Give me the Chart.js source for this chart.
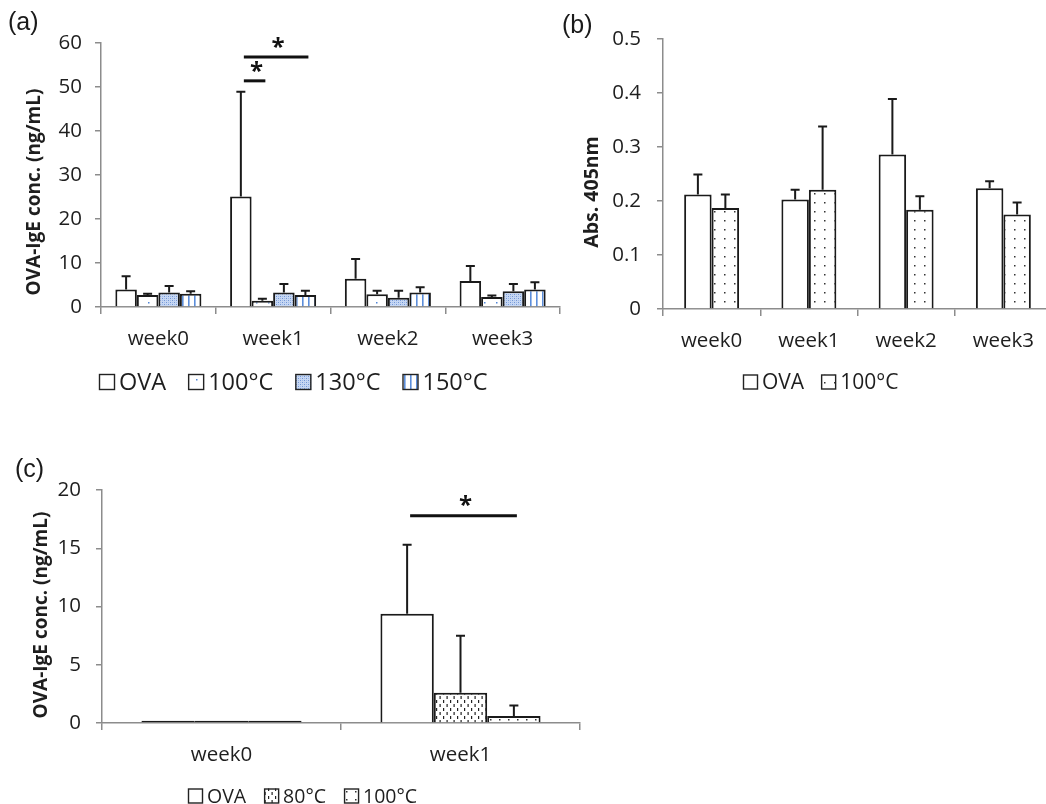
<!DOCTYPE html>
<html><head><meta charset="utf-8">
<script src="https://cdn.jsdelivr.net/npm/chart.js@4.4.1/dist/chart.umd.min.js"></script>
<style>
html,body{margin:0;padding:0;background:#fff;width:1046px;height:804px;overflow:hidden;position:relative}
canvas{position:absolute;display:block}
</style></head><body>
<canvas id="ca" width="590" height="400" style="left:0;top:0"></canvas>
<canvas id="cb" width="520" height="400" style="left:540px;top:0"></canvas>
<canvas id="cc" width="600" height="384" style="left:0;top:420px"></canvas>
<script>
// ---------- data ----------
const weeksA = ['week0','week1','week2','week3'];
const seriesA = ['OVA','100°C','130°C','150°C'];
const ovaA     = [4.0, 25.1, 6.4, 5.9];
const ovaAErr  = [3.0, 23.8, 4.5, 3.4];
const c100A    = [2.7, 1.4, 2.9, 2.3];
const c100AErr = [0.3, 0.5, 0.8, 0.3];
const c130A    = [3.3, 3.3, 2.1, 3.6];
const c130AErr = [1.5, 1.9, 1.6, 1.6];
const c150A    = [3.0, 2.7, 3.3, 4.0];
const c150AErr = [0.6, 1.0, 1.2, 1.6];
const ticksA = [0,10,20,30,40,50,60];
const sigA = [{week:1, from:0, to:3, y:56.8}, {week:1, from:0, to:1, y:51.4}];

const weeksB = ['week0','week1','week2','week3'];
const seriesB = ['OVA','100°C'];
const ovaB     = [0.212, 0.203, 0.286, 0.2235];
const ovaBErr  = [0.037, 0.018, 0.103, 0.013];
const c100B    = [0.187, 0.221, 0.184, 0.175];
const c100BErr = [0.025, 0.117, 0.025, 0.022];
const ticksB = [0,0.1,0.2,0.3,0.4,0.5];

const weeksC = ['week0','week1'];
const seriesC = ['OVA','80°C','100°C'];
const ovaC     = [0.2, 9.37];
const ovaCErr  = [0, 5.93];
const c80C     = [0.2, 2.6];
const c80CErr  = [0, 4.9];
const c100C    = [0.2, 0.6];
const c100CErr = [0, 0.9];
const ticksC = [0,5,10,15,20];
const sigC = [{week:1, from:0, to:2, y:17.8}];

// ---------- styling helpers ----------
const FONT = "'Open Sans', 'DejaVu Sans', sans-serif";
const TXT = '#1e1e1e';
const AXIS = '#8c8c8c';
Chart.defaults.font.family = FONT;
Chart.defaults.color = TXT;

function makePattern(canvas, w, h, draw){
  const c = document.createElement('canvas'); c.width = w; c.height = h;
  const g = c.getContext('2d'); g.fillStyle = '#fff'; g.fillRect(0,0,w,h); draw(g);
  return canvas.getContext('2d').createPattern(c, 'repeat');
}
const patterns = (cv) => ({
  white: '#ffffff',
  blueDots: makePattern(cv, 12, 11, g => { g.fillStyle = '#4f84d6'; g.fillRect(4,5,1.5,1.5); }),
  blueCheck: makePattern(cv, 4, 4, g => {
    g.fillStyle = '#c6d7f3'; g.fillRect(0,0,4,4);
    g.fillStyle = '#7196d6'; g.fillRect(0,0,1,1); g.fillRect(2,2,1,1);
    g.fillStyle = '#9fb9e8'; g.fillRect(2,0,1,1); g.fillRect(0,2,1,1);
  }),
  blueStripes: makePattern(cv, 6, 2, g => { g.fillStyle = '#5b8edb'; g.fillRect(2,0,1.6,2); }),
  blackDots: makePattern(cv, 10, 9, g => { g.fillStyle = '#333'; g.fillRect(4,4,1.5,1.5); }),
  blackDots2: makePattern(cv, 9, 8, g => { g.fillStyle = '#333'; g.fillRect(4,3,1.5,1.5); }),
  vDashes: makePattern(cv, 7, 8, g => { g.fillStyle = '#222'; g.fillRect(2,0,1.2,3); g.fillRect(5.5,4,1.2,3); })
});

const errPlugin = {
  id: 'errbars',
  afterDatasetsDraw(chart){
    const ctx = chart.ctx, ys = chart.scales.y;
    chart.data.datasets.forEach((ds, i) => {
      const meta = chart.getDatasetMeta(i);
      meta.data.forEach((bar, j) => {
        const e = ds.errors ? ds.errors[j] : 0;
        if (!e) return;
        const top = ys.getPixelForValue(ds.data[j] + e);
        const base = ys.getPixelForValue(ds.data[j]);
        ctx.save(); ctx.strokeStyle = '#1a1a1a'; ctx.lineWidth = 2;
        ctx.beginPath(); ctx.moveTo(bar.x, base); ctx.lineTo(bar.x, top);
        ctx.moveTo(bar.x - 4.5, top); ctx.lineTo(bar.x + 4.5, top); ctx.stroke(); ctx.restore();
      });
    });
  }
};

const decoPlugin = {
  id: 'deco',
  afterDraw(chart){
    const o = chart.options.plugins.deco; if (!o) return;
    const ctx = chart.ctx;
    ctx.save();
    // panel label
    ctx.fillStyle = '#1a1a1a'; ctx.font = "25px 'Liberation Sans', Arial, sans-serif";
    ctx.textAlign = 'left'; ctx.textBaseline = 'middle';
    ctx.fillText(o.panel, o.panelX, o.panelY);
    // y-axis title
    ctx.save(); ctx.translate(o.titleX, o.titleY); ctx.rotate(-Math.PI/2);
    ctx.font = "bold " + o.titleSize + "px " + FONT; ctx.fillStyle = TXT; ctx.textAlign = 'center';
    ctx.textBaseline = 'middle';
    ctx.fillText(o.title, 0, 0); ctx.restore();
    // significance bars
    const ys = chart.scales.y;
    (o.sig || []).forEach(s => {
      const x1 = chart.getDatasetMeta(s.from).data[s.week].x + 3;
      const x2 = chart.getDatasetMeta(s.to).data[s.week].x + 3;
      const y = ys.getPixelForValue(s.y);
      ctx.strokeStyle = '#111'; ctx.lineWidth = 3;
      ctx.beginPath(); ctx.moveTo(x1, y); ctx.lineTo(x2, y); ctx.stroke();
      ctx.fillStyle = '#111'; ctx.font = "bold 24px " + FONT; ctx.textAlign = 'center'; ctx.textBaseline = 'middle';
      ctx.fillText('*', (x1 + x2) / 2 + 2, y - 9);
    });
    // legend
    const L = o.legend;
    let x = L.x;
    ctx.font = L.size + "px " + FONT; ctx.textBaseline = 'middle'; ctx.textAlign = 'left';
    chart.data.datasets.forEach(ds => {
      ctx.fillStyle = ds.backgroundColor;
      ctx.fillRect(x, L.y - L.box/2, L.box, L.box);
      ctx.strokeStyle = '#222'; ctx.lineWidth = 1.4;
      ctx.strokeRect(x + 0.5, L.y - L.box/2 + 0.5, L.box - 1, L.box - 1);
      ctx.fillStyle = TXT;
      ctx.fillText(ds.label, x + L.box + 4, L.y + 1);
      x += L.box + 4 + ctx.measureText(ds.label).width + L.gap;
    });
    ctx.restore();
  }
};

function ds(label, data, errors, bg, skipped){
  return { label, data, errors, backgroundColor: bg, borderColor: '#1a1a1a', borderWidth: 2,
           borderSkipped: skipped === undefined ? 'start' : skipped, barPercentage: 1.0 };
}
// tiny bars (near zero) get a full border so they read as a dark line
const skipTiny = (c) => (c.raw !== undefined && c.raw < 0.5) ? false : 'start';

function makeChart(id, cfg){
  const cv = document.getElementById(id);
  return new Chart(cv, {
    type: 'bar',
    data: { labels: cfg.labels, datasets: cfg.datasets },
    plugins: [errPlugin, decoPlugin],
    options: {
      responsive: false, animation: false, devicePixelRatio: 1,
      layout: { padding: cfg.padding },
      datasets: { bar: { categoryPercentage: cfg.catPct, barPercentage: 1.0 } },
      plugins: { legend: { display: false }, tooltip: { enabled: false }, deco: cfg.deco },
      scales: {
        x: {
          afterFit(s){ s.height = cfg.xHeight; },
          border: { color: AXIS, width: 1.5 },
          grid: { display: true, drawOnChartArea: false, drawTicks: true, tickLength: 7, color: AXIS, lineWidth: 1.5, offset: true },
          ticks: { font: { size: 20.5, family: FONT }, color: TXT, padding: 13, maxRotation: 0 }
        },
        y: {
          min: cfg.ticks[0], max: cfg.ticks[cfg.ticks.length - 1],
          afterFit(s){ s.width = cfg.yWidth; },
          afterBuildTicks(s){ s.ticks = cfg.ticks.map(v => ({ value: v })); },
          border: { color: AXIS, width: 1.5 },
          grid: { display: true, drawOnChartArea: false, drawTicks: true, tickLength: 6, color: AXIS, lineWidth: 1.5 },
          ticks: { font: { size: 20.5, family: FONT }, color: TXT, padding: cfg.yPad,
                   callback: v => String(+(+v).toFixed(2)) }
        }
      }
    }
  });
}

// ---------- panel (a) ----------
(function(){
  const cv = document.getElementById('ca'); const P = patterns(cv);
  makeChart('ca', {
    labels: weeksA, ticks: ticksA, catPct: 0.75,
    padding: { top: 43, right: 30, bottom: 0, left: 0 }, yWidth: 101, xHeight: 93, yPad: 13,
    datasets: [
      ds(seriesA[0], ovaA, ovaAErr, P.white),
      ds(seriesA[1], c100A, c100AErr, P.blueDots),
      ds(seriesA[2], c130A, c130AErr, P.blueCheck),
      ds(seriesA[3], c150A, c150AErr, P.blueStripes)
    ],
    deco: { panel: '(a)', panelX: 8, panelY: 23, title: 'OVA-IgE conc. (ng/mL)', titleSize: 19, titleX: 35, titleY: 192,
            sig: sigA, legend: { x: 99, y: 382, box: 16, size: 23.5, gap: 22 } }
  });
})();

// ---------- panel (b) ----------
(function(){
  const cv = document.getElementById('cb'); const P = patterns(cv);
  makeChart('cb', {
    labels: weeksB, ticks: ticksB, catPct: 0.565,
    padding: { top: 39, right: 8, bottom: 0, left: 0 }, yWidth: 123, xHeight: 91, yPad: 16,
    datasets: [
      ds(seriesB[0], ovaB, ovaBErr, P.white),
      ds(seriesB[1], c100B, c100BErr, P.blackDots)
    ],
    deco: { panel: '(b)', panelX: 22, panelY: 26, title: 'Abs. 405nm', titleSize: 19.5, titleX: 52, titleY: 192,
            sig: [], legend: { x: 203, y: 382, box: 15, size: 21, gap: 17 } }
  });
})();

// ---------- panel (c) ----------
(function(){
  const cv = document.getElementById('cc'); const P = patterns(cv);
  makeChart('cc', {
    labels: weeksC, ticks: ticksC, catPct: 0.67,
    padding: { top: 70, right: 20, bottom: 0, left: 0 }, yWidth: 102, xHeight: 81, yPad: 15,
    datasets: [
      ds(seriesC[0], ovaC, ovaCErr, P.white, skipTiny),
      ds(seriesC[1], c80C, c80CErr, P.vDashes, skipTiny),
      ds(seriesC[2], c100C, c100CErr, P.blackDots2, skipTiny)
    ],
    deco: { panel: '(c)', panelX: 15, panelY: 50, title: 'OVA-IgE conc. (ng/mL)', titleSize: 19, titleX: 42, titleY: 195,
            sig: sigC, legend: { x: 188, y: 376, box: 15, size: 19.5, gap: 18 } }
  });
})();
</script>
</body></html>
